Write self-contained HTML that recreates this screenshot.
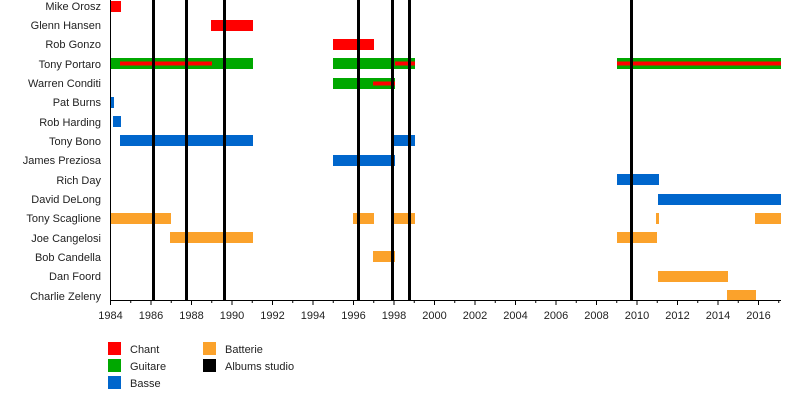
<!DOCTYPE html>
<html><head><meta charset="utf-8"><style>
html,body{margin:0;padding:0;background:#fff;}
svg{display:block;font-family:"Liberation Sans",sans-serif;}
</style></head><body>
<svg width="800" height="400" viewBox="0 0 800 400" xmlns="http://www.w3.org/2000/svg">
<g font-size="11" fill="#222" text-anchor="end">
<text x="101" y="10">Mike Orosz</text>
<text x="101" y="29">Glenn Hansen</text>
<text x="101" y="48">Rob Gonzo</text>
<text x="101" y="68">Tony Portaro</text>
<text x="101" y="87">Warren Conditi</text>
<text x="101" y="106">Pat Burns</text>
<text x="101" y="126">Rob Harding</text>
<text x="101" y="145">Tony Bono</text>
<text x="101" y="164">James Preziosa</text>
<text x="101" y="184">Rich Day</text>
<text x="101" y="203">David DeLong</text>
<text x="101" y="222">Tony Scaglione</text>
<text x="101" y="242">Joe Cangelosi</text>
<text x="101" y="261">Bob Candella</text>
<text x="101" y="280">Dan Foord</text>
<text x="101" y="300">Charlie Zeleny</text>
</g>
<g>
<!-- Chant -->
<rect x="111" y="1" width="10" height="11" fill="#f00"/>
<rect x="211" y="20" width="42" height="11" fill="#f00"/>
<rect x="333" y="39" width="41" height="11" fill="#f00"/>
<!-- Guitare -->
<rect x="111" y="58" width="142" height="11" fill="#00a800"/>
<rect x="120" y="61.5" width="92" height="4" fill="#f00"/>
<rect x="333" y="58" width="82" height="11" fill="#00a800"/>
<rect x="395" y="61.5" width="20" height="4" fill="#f00"/>
<rect x="617" y="58" width="164" height="11" fill="#00a800"/>
<rect x="617" y="61.5" width="164" height="4" fill="#f00"/>
<rect x="333" y="78" width="62" height="11" fill="#00a800"/>
<rect x="373" y="81.5" width="22" height="4" fill="#f00"/>
<!-- Basse -->
<rect x="111" y="97" width="3" height="11" fill="#0066cc"/>
<rect x="113" y="116" width="8" height="11" fill="#0066cc"/>
<rect x="120" y="135" width="133" height="11" fill="#0066cc"/>
<rect x="394" y="135" width="21" height="11" fill="#0066cc"/>
<rect x="333" y="155" width="62" height="11" fill="#0066cc"/>
<rect x="617" y="174" width="42" height="11" fill="#0066cc"/>
<rect x="658" y="194" width="123" height="11" fill="#0066cc"/>
<!-- Batterie -->
<rect x="111" y="213" width="60" height="11" fill="#fba22b"/>
<rect x="353" y="213" width="21" height="11" fill="#fba22b"/>
<rect x="394" y="213" width="21" height="11" fill="#fba22b"/>
<rect x="656" y="213" width="3" height="11" fill="#fba22b"/>
<rect x="755" y="213" width="26" height="11" fill="#fba22b"/>
<rect x="170" y="232" width="83" height="11" fill="#fba22b"/>
<rect x="617" y="232" width="40" height="11" fill="#fba22b"/>
<rect x="373" y="251" width="22" height="11" fill="#fba22b"/>
<rect x="658" y="271" width="70" height="11" fill="#fba22b"/>
<rect x="727" y="290" width="29" height="11" fill="#fba22b"/>
</g>
<g fill="#000">
<rect x="152" y="0" width="3" height="301"/>
<rect x="185" y="0" width="3" height="301"/>
<rect x="223" y="0" width="3" height="301"/>
<rect x="357" y="0" width="3" height="301"/>
<rect x="391" y="0" width="3" height="301"/>
<rect x="408" y="0" width="3" height="301"/>
<rect x="630" y="0" width="3" height="301"/>
</g>
<line x1="110.5" y1="0" x2="110.5" y2="301" stroke="#000" stroke-width="1"/>
<line x1="110" y1="300.5" x2="781" y2="300.5" stroke="#000" stroke-width="1"/>
<g stroke="#000" stroke-width="1" id="ticks"></g>
<g font-size="11" fill="#222" text-anchor="middle" id="labels"></g>
<g font-size="11" fill="#222">
<rect x="108" y="342" width="13" height="13" fill="#f00"/><text x="130" y="353">Chant</text>
<rect x="108" y="359" width="13" height="13" fill="#00a800"/><text x="130" y="370">Guitare</text>
<rect x="108" y="376" width="13" height="13" fill="#0066cc"/><text x="130" y="387">Basse</text>
<rect x="203" y="342" width="13" height="13" fill="#fba22b"/><text x="225" y="353">Batterie</text>
<rect x="203" y="359" width="13" height="13" fill="#000"/><text x="225" y="370">Albums studio</text>
</g>
<script>
var t=document.getElementById('ticks'),l=document.getElementById('labels'),ns='http://www.w3.org/2000/svg';
for(var y=1984;y<=2017;y++){var x=110.5+(y-1984)*20.25;var ln=document.createElementNS(ns,'line');
ln.setAttribute('x1',x);ln.setAttribute('x2',x);ln.setAttribute('y1',301);ln.setAttribute('y2',y%2==0?305:303);t.appendChild(ln);
if(y%2==0){var tx=document.createElementNS(ns,'text');tx.setAttribute('x',x);tx.setAttribute('y',319);tx.textContent=y;l.appendChild(tx);}}
</script>
</svg>
</body></html>
